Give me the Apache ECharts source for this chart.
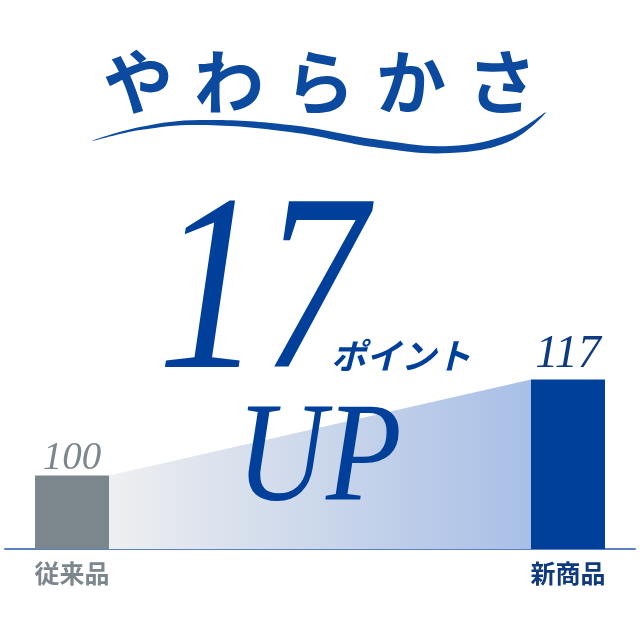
<!DOCTYPE html>
<html>
<head>
<meta charset="utf-8">
<script src="https://cdn.jsdelivr.net/npm/echarts@6/dist/echarts.min.js"></script>
<style>
  html, body { margin: 0; padding: 0; background: #fff; }
  #main { width: 640px; height: 640px; }
</style>
</head>
<body>
<div id="main"></div>
<script>
(function () {
  'use strict';

  // data
  var categories = ['従来品', '新商品'];
  var softness = [100, 117];
  var headline = 'やわらかさ';
  var upPoints = '17';
  var pointText = 'ポイント';
  var upText = 'UP';

  var yMin = 87, yMax = 130;
  var barW = 74;
  var blue = '#00409a';
  var gray = '#7b878d';

  var myChart = echarts.init(document.getElementById('main'), null, { renderer: 'canvas' });

  // headline characters, spread out
  var titleItems = [];
  for (var i = 0; i < headline.length; i++) {
    titleItems.push({
      type: 'text',
      x: 138 + i * 91,
      y: 82,
      z: 10,
      style: {
        text: headline[i],
        fill: '#0b4a9f',
        font: 'bold 70px "Noto Sans CJK JP"',
        align: 'center',
        verticalAlign: 'middle'
      }
    });
  }

  var option = {
    backgroundColor: '#fff',
    animation: false,
    grid: [
      { left: 72, right: 72, top: 306, bottom: 91 },
      { left: 5, right: 5, top: 306, bottom: 91 }
    ],
    xAxis: [{
      type: 'category',
      gridIndex: 0,
      data: categories,
      boundaryGap: false,
      axisLine: { show: false },
      axisTick: { show: false },
      axisLabel: {
        margin: 12,
        fontSize: 25,
        fontWeight: 'bold',
        fontFamily: '"Noto Sans CJK JP"',
        color: function (v, idx) { return idx === 0 ? gray : '#0f3a80'; }
      }
    }, {
      type: 'value',
      gridIndex: 1,
      min: 0, max: 1,
      axisLine: { show: true, lineStyle: { color: '#5b80c4', width: 2 } },
      axisTick: { show: false },
      axisLabel: { show: false },
      splitLine: { show: false }
    }],
    yAxis: [{
      type: 'value',
      gridIndex: 0,
      min: yMin, max: yMax,
      startValue: yMin,
      show: false
    }, {
      type: 'value',
      gridIndex: 1,
      min: 0, max: 1,
      show: false
    }],
    series: [{
      // gradient slope between the bars
      type: 'custom',
      xAxisIndex: 0, yAxisIndex: 0,
      z: 1,
      silent: true,
      data: [[0, softness[0], 1, softness[1]]],
      renderItem: function (params, api) {
        var a = api.coord([api.value(0), api.value(1)]);
        var b = api.coord([api.value(2), api.value(3)]);
        var base = api.coord([0, yMin])[1];
        var x0 = a[0] + barW / 2, x1 = b[0] - barW / 2;
        return {
          type: 'polygon',
          shape: { points: [[x0, a[1]], [x1, b[1]], [x1, base], [x0, base]] },
          style: {
            fill: {
              type: 'linear', x: 0, y: 0, x2: 1, y2: 0,
              colorStops: [
                { offset: 0, color: '#eeeff0' },
                { offset: 1, color: '#a8bfe6' }
              ]
            }
          }
        };
      }
    }, {
      type: 'bar',
      xAxisIndex: 0, yAxisIndex: 0,
      barWidth: barW,
      clip: false,
      z: 2,
      data: [{
        value: softness[0],
        itemStyle: { color: gray },
        label: { color: '#7b878d', fontSize: 39, distance: -3 }
      }, {
        value: softness[1],
        itemStyle: { color: blue },
        label: { color: '#0f3a80', fontSize: 46, distance: 2 }
      }],
      label: {
        show: true,
        position: 'top',
        fontFamily: '"Liberation Serif"',
        fontStyle: 'italic'
      }
    }],
    graphic: titleItems.concat([{
      // swoosh under the headline
      type: 'polygon',
      z: 10,
      shape: {
        smooth: 0.4,
        points: [[92, 141], [140, 127], [200, 120], [290, 125], [380, 140], [450, 146], [510, 134], [546, 112],
                 [510, 141], [450, 153], [380, 148], [290, 132], [200, 125], [140, 130]]
      },
      style: { fill: '#0b4a9f' }
    }, {
      type: 'text',
      x: 262, y: 175,
      z: 10,
      scaleX: 0.83,
      style: {
        text: upPoints,
        fill: blue,
        font: 'italic 252px "Liberation Serif"',
        align: 'center',
        verticalAlign: 'top'
      }
    }, {
      type: 'text',
      x: 401, y: 338,
      z: 10,
      style: {
        text: pointText,
        fill: blue,
        font: 'italic bold 35px "Noto Sans CJK JP"',
        align: 'center',
        verticalAlign: 'top'
      }
    }, {
      type: 'text',
      x: 319, y: 392,
      z: 10,
      scaleX: 0.88,
      style: {
        text: upText,
        fill: blue,
        font: 'italic 141px "Liberation Serif"',
        align: 'center',
        verticalAlign: 'top'
      }
    }])
  };

  myChart.setOption(option);
})();
</script>
</body>
</html>
